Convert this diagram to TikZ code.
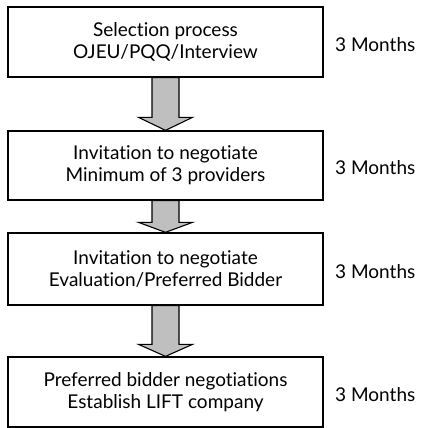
\documentclass[tikz,border=0pt]{standalone}
\usepackage{fontspec}
\setmainfont{Lato}[Ligatures=NoCommon]
\usetikzlibrary{calc}
\tikzset{
  stagebox/.style={draw=black, line width=1.3pt, fill=white, inner sep=0pt,
    minimum width=315pt, align=center, font=\fontsize{19pt}{22pt}\selectfont},
  duration/.style={anchor=west, inner sep=0pt, font=\fontsize{19pt}{22pt}\selectfont},
  fatarrow/.style={draw=black, line width=1.1pt, fill=black!25, line join=miter}
}
% block arrow from the bottom of one box to the top of the next
\newcommand\stagearrow[3]{%
  \path[fatarrow] let \p1=(#1.south), \p2=(#2.north) in
    (\x1-13.5pt,\y1) -- (\x1+13.5pt,\y1) -- (\x1+13.5pt,\y2+#3) --
    (\x1+27pt,\y2+#3) -- (\x1,\y2) -- (\x1-27pt,\y2+#3) --
    (\x1-13.5pt,\y2+#3) -- cycle;}
\begin{document}
\begin{tikzpicture}[x=1pt,y=-1pt]
  \useasboundingbox (0,0) rectangle (422,428);
  \node[stagebox, minimum height=70pt] (s1) at (165.5,42)
    {Selection process\\OJEU/PQQ/Interview};
  \node[stagebox, minimum height=69pt] (s2) at (165.5,165.5)
    {Invitation to negotiate\\Minimum of 3 providers};
  \node[stagebox, minimum height=72pt] (s3) at (165.5,269)
    {Invitation to negotiate\\Evaluation/Preferred Bidder};
  \node[stagebox, minimum height=70pt] (s4) at (165.5,392)
    {Preferred bidder negotiations\\Establish LIFT company};
  \stagearrow{s1}{s2}{13pt}
  \stagearrow{s2}{s3}{10pt}
  \stagearrow{s3}{s4}{12pt}
  \node[duration] (m1) at (335,45) {3 Months};
  \node[duration] (m2) at (335,168) {3 Months};
  \node[duration] (m3) at (335,272) {3 Months};
  \node[duration] (m4) at (335,395) {3 Months};
\end{tikzpicture}
\end{document}
